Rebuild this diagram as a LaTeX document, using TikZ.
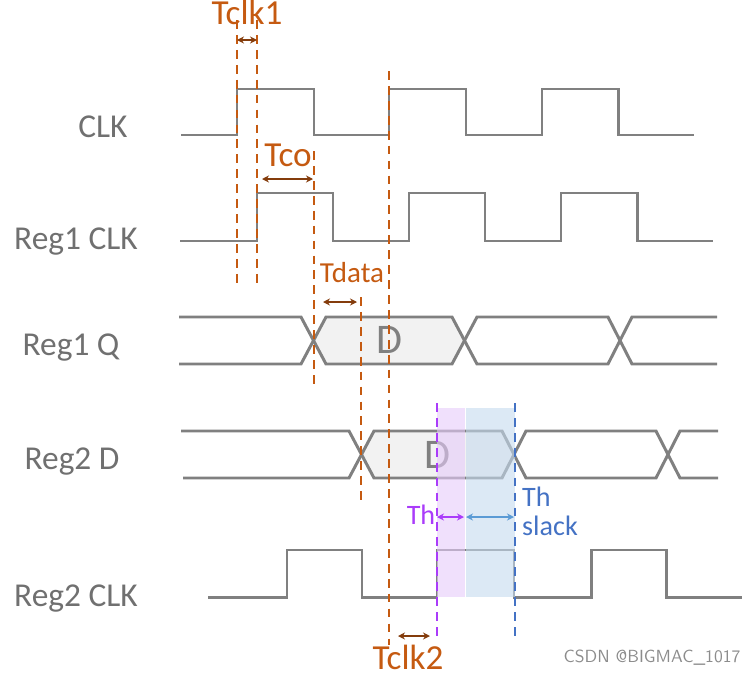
\documentclass[tikz,border=0pt]{standalone}
\usepackage{fontspec}
\setmainfont{Carlito}
\usetikzlibrary{arrows.meta}

\definecolor{sig}{RGB}{128,128,128}
\definecolor{lbl}{RGB}{112,112,112}
\definecolor{torange}{RGB}{197,90,17}
\definecolor{tbrown}{RGB}{132,60,12}
\definecolor{thpurple}{RGB}{170,60,250}
\definecolor{thblue}{RGB}{68,114,196}
\definecolor{slackblue}{RGB}{91,155,213}
\definecolor{shadepurple}{RGB}{230,203,250}
\definecolor{shadeblue}{RGB}{197,218,238}

\begin{document}
\begin{tikzpicture}[x=0.02cm, y=-0.02cm,
        wave/.style={sig, line width=1.7pt, line join=miter},
        busfill/.style={fill=black!5, draw=none},
        guide/.style={torange, line width=0.9pt, dash pattern=on 5pt off 3.5pt},
        dim/.style={<->, >={Stealth[length=4pt,width=4pt]}, line width=0.8pt},
        siglabel/.style={anchor=mid, text=lbl, font=\fontsize{19}{19}\selectfont},
        timelabel/.style={anchor=mid, text=torange, font=\fontsize{20}{20}\selectfont}
    ]
    \useasboundingbox (0,0) rectangle (754,676);

    % Signal names
    \node[siglabel] (clk) at (103,133) {CLK};
    \node[siglabel] (r1clk) at (76,245) {Reg1 CLK};
    \node[siglabel] (r1q) at (71,351) {Reg1 Q};
    \node[siglabel] (r2d) at (72,465) {Reg2 D};
    \node[siglabel] (r2clk) at (76,602) {Reg2 CLK};

    % Data windows (fill)
    \fill[busfill] (313,340) -- (326,317) -- (452,317) -- (465,340) -- (452,364) -- (326,364) -- cycle;
    \fill[busfill] (361,455) -- (374,431) -- (502,431) -- (514,455) -- (502,478) -- (374,478) -- cycle;
    \node[text=sig, font=\fontsize{24}{24}\selectfont] (dq) at (389,340) {D};
    \node[text=sig, font=\fontsize{24}{24}\selectfont] (dd) at (437,455) {D};

    % Clock waveforms
    \draw[wave] (181,135) -- (237,135) -- (237,89) -- (314,89) -- (314,135) -- (389,135) -- (389,89)
        -- (466,89) -- (466,135) -- (542,135) -- (542,89) -- (618,89) -- (618,135) -- (694,135);
    \draw[wave] (180,241) -- (257,241) -- (257,193) -- (333,193) -- (333,241) -- (409,241) -- (409,193)
        -- (485,193) -- (485,241) -- (561,241) -- (561,193) -- (637,193) -- (637,241) -- (713,241);
    \draw[wave] (208,597) -- (287,597) -- (287,550) -- (362,550) -- (362,597) -- (437,597) -- (437,550)
        -- (514,550) -- (514,597) -- (591,597) -- (591,550) -- (666,550) -- (666,597) -- (742,597);

    % Bus waveforms
    \draw[wave] (179,317) -- (301,317) -- (326,364) -- (452,364) -- (477,317) -- (608,317) -- (632,364) -- (717,364);
    \draw[wave] (179,364) -- (301,364) -- (326,317) -- (452,317) -- (477,364) -- (608,364) -- (632,317) -- (717,317);
    \draw[wave] (181,431) -- (349,431) -- (374,478) -- (502,478) -- (526,431) -- (656,431) -- (680,478) -- (718,478);
    \draw[wave] (183,478) -- (349,478) -- (374,431) -- (502,431) -- (526,478) -- (656,478) -- (680,431) -- (718,431);

    % Hold window shading
    \fill[shadepurple, opacity=0.6] (437,408) rectangle (464.5,597);
    \fill[shadeblue, opacity=0.6] (466,408) rectangle (515,597);

    % Guide lines
    \draw[guide] (237,20) -- (237,287);
    \draw[guide] (257,20) -- (257,287);
    \draw[guide] (314,151) -- (314,385);
    \draw[guide] (361,297) -- (361,505);
    \draw[guide] (389,71) -- (389,645);
    \draw[guide, thpurple] (437,403) -- (437,637);
    \draw[guide, thblue] (515,403) -- (515,637);

    % Delay markers
    \coordinate (tk1a) at (237,40);
    \coordinate (tk1b) at (257,40);
    \draw[dim, tbrown] (tk1a) -- (tk1b);
    \node[timelabel] (tclk1) at (247,20) {Tclk1};

    \coordinate (tcoa) at (262,179);
    \coordinate (tcob) at (313,179);
    \draw[dim, tbrown] (tcoa) -- (tcob);
    \node[timelabel] (tco) at (288,162) {Tco};

    \coordinate (tda) at (323,302);
    \coordinate (tdb) at (357,302);
    \draw[dim, tbrown] (tda) -- (tdb);
    \node[timelabel, font=\fontsize{16.5}{16.5}\selectfont] (tdata) at (352,278) {Tdata};

    \coordinate (tk2a) at (398,636);
    \coordinate (tk2b) at (430,636);
    \draw[dim, tbrown] (tk2a) -- (tk2b);
    \node[timelabel] (tclk2) at (408,665) {Tclk2};

    \coordinate (tha) at (437,517);
    \coordinate (thb) at (464,517);
    \draw[dim, thpurple] (tha) -- (thb);
    \node[timelabel, text=thpurple, font=\fontsize{16}{16}\selectfont] (th) at (421,520) {Th};

    \coordinate (tsa) at (466,517);
    \coordinate (tsb) at (514,517);
    \draw[dim, slackblue] (tsa) -- (tsb);
    \node[text=thblue, align=left, font=\fontsize{16}{16.5}\selectfont] (thslack) at (550,511) {Th\\slack};

    % Watermark
    \node[text=black!45, font=\sffamily\fontsize{10}{10}\selectfont] (wm) at (652,658) {CSDN @BIGMAC\_1017};
\end{tikzpicture}
\end{document}
